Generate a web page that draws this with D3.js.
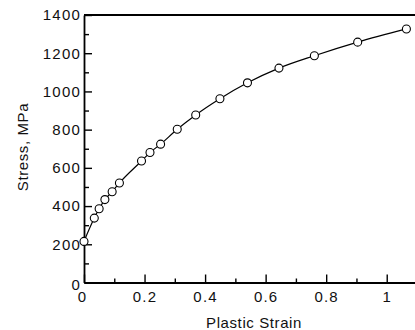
<!DOCTYPE html>
<html>
<head>
<meta charset="utf-8">
<script src="https://cdn.jsdelivr.net/npm/d3@7"></script>
<style>
  body { margin: 0; background: #fff; }
  svg { display: block; font-family: "Liberation Sans", Arial, sans-serif; }
  .tick text { font-size: 15px; letter-spacing: 1.2px; fill: #111; }
  .axis-label { font-size: 15px; letter-spacing: 0.6px; fill: #111; }
</style>
</head>
<body>
<svg id="chart"></svg>
<script>
// values
const strain = [0, 0.034, 0.05, 0.069, 0.093, 0.117, 0.19, 0.218, 0.253, 0.308, 0.369, 0.449, 0.54, 0.644, 0.761, 0.904, 1.065];
const stress = [215, 337, 386, 434, 475, 521, 636, 680, 724, 802, 877, 962, 1045, 1122, 1187, 1258, 1327];
const xTicks = [0, 0.2, 0.4, 0.6, 0.8, 1];
const xMinor = [0.1, 0.3, 0.5, 0.7, 0.9];
const yTicks = [0, 200, 400, 600, 800, 1000, 1200, 1400];
const yMinor = [100, 300, 500, 700, 900, 1100, 1300];

var width = 415;
var height = 330;
var margin = { top: 15, bottom: 47.5, left: 84, right: -2 };

var svg = d3.select('#chart')
  .attr('width', width)
  .attr('height', height);

var data = strain.map((s, i) => ({ x: s, y: stress[i] }));

var x = d3.scaleLinear()
  .domain([0, 1.1])
  .range([margin.left, width - margin.right]);

var y = d3.scaleLinear()
  .domain([0, 1400])
  .range([height - margin.bottom, margin.top]);

// minor ticks first (no labels)
svg.append('g')
  .attr('transform', 'translate(0,' + y(0) + ')')
  .call(d3.axisBottom(x).tickValues(xMinor).tickSize(-4).tickFormat(''))
  .call(g => g.select('.domain').remove());

svg.append('g')
  .attr('transform', 'translate(' + x(0) + ',0)')
  .call(d3.axisLeft(y).tickValues(yMinor).tickSize(-5).tickFormat(''))
  .call(g => g.select('.domain').remove());

// major axes
var xAxis = svg.append('g')
  .attr('transform', 'translate(0,' + y(0) + ')')
  .call(d3.axisBottom(x).tickValues(xTicks).tickSize(-8).tickSizeOuter(0).tickPadding(9)
    .tickFormat(d => d3.format('')(d)));

var yAxis = svg.append('g')
  .attr('transform', 'translate(' + x(0) + ',0)')
  .call(d3.axisLeft(y).tickValues(yTicks).tickSize(-8).tickSizeOuter(0).tickPadding(3)
    .tickFormat(d3.format('d')));

// the "0" labels sit a bit off the corner
xAxis.selectAll('.tick text').filter(d => d === 0).attr('dx', -2);
yAxis.selectAll('.tick text').filter(d => d === 0).attr('dy', '0.45em');

svg.selectAll('.domain').attr('stroke-width', 1.8);
svg.selectAll('.tick line').attr('stroke-width', 1.4);

// top frame line
svg.append('line')
  .attr('x1', x(0)).attr('x2', x(1.1))
  .attr('y1', y(1400)).attr('y2', y(1400))
  .attr('stroke', '#000')
  .attr('stroke-width', 1.8);

// curve
var line = d3.line()
  .x(d => x(d.x))
  .y(d => y(d.y))
  .curve(d3.curveMonotoneX);

svg.append('path')
  .datum(data)
  .attr('fill', 'none')
  .attr('stroke', '#000')
  .attr('stroke-width', 1.2)
  .attr('d', line);

svg.selectAll('circle')
  .data(data)
  .join('circle')
    .attr('cx', d => x(d.x))
    .attr('cy', d => y(d.y))
    .attr('r', 4)
    .attr('fill', '#fff')
    .attr('stroke', '#000')
    .attr('stroke-width', 1.1);

// axis titles
svg.append('text')
  .attr('class', 'axis-label')
  .attr('transform', 'rotate(-90)')
  .attr('x', -147)
  .attr('y', 28)
  .attr('text-anchor', 'middle')
  .text('Stress, MPa');

svg.append('text')
  .attr('class', 'axis-label')
  .attr('x', 254)
  .attr('y', 328)
  .attr('text-anchor', 'middle')
  .text('Plastic Strain');
</script>
</body>
</html>
